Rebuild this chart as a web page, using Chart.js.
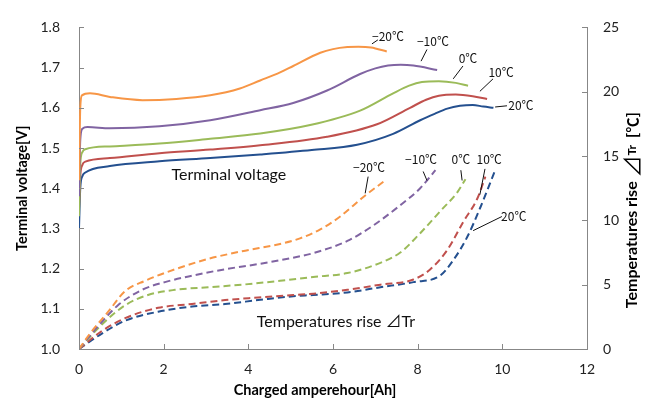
<!DOCTYPE html>
<html>
<head>
<meta charset="utf-8">
<script src="https://cdn.jsdelivr.net/npm/chart.js@4.4.1/dist/chart.umd.min.js"></script>
<style>
  html, body { margin: 0; padding: 0; background: #fff; }
  #wrap { width: 652px; height: 403px; }
</style>
</head>
<body>
<div id="wrap"><canvas id="chart" width="652" height="403"></canvas></div>
<script>
// Terminal voltage [V] vs charged Ah
const vAhM20 = [0, 0.03, 0.07, 0.26, 0.73, 1.5, 2.3, 3.1, 3.8, 4.28, 4.75, 5.06, 5.7, 6.0, 6.34, 6.6, 6.9, 7.27];
const voltM20 = [1.42, 1.60, 1.631, 1.636, 1.627, 1.619, 1.622, 1.631, 1.648, 1.668, 1.688, 1.704, 1.737, 1.746, 1.751, 1.752, 1.750, 1.740];
const vAhM10 = [0, 0.03, 0.08, 0.2, 0.73, 1.9, 3.1, 4.28, 5.06, 5.86, 6.64, 7.0, 7.3, 7.6, 7.9, 8.46];
const voltM10 = [1.38, 1.52, 1.548, 1.552, 1.549, 1.554, 1.569, 1.594, 1.612, 1.643, 1.684, 1.698, 1.705, 1.707, 1.705, 1.694];
const vAh0 = [0, 0.03, 0.08, 0.15, 0.73, 1.9, 3.1, 4.28, 5.46, 6.64, 7.42, 7.8, 8.1, 8.5, 8.9, 9.19];
const volt0 = [1.33, 1.46, 1.49, 1.497, 1.504, 1.511, 1.523, 1.536, 1.557, 1.593, 1.636, 1.655, 1.664, 1.666, 1.662, 1.655];
const vAh10 = [0, 0.03, 0.08, 0.15, 0.73, 1.9, 3.1, 4.28, 5.86, 7.04, 7.82, 8.2, 8.5, 8.9, 9.3, 9.64];
const volt10 = [1.35, 1.43, 1.458, 1.466, 1.475, 1.487, 1.496, 1.507, 1.528, 1.559, 1.600, 1.620, 1.630, 1.633, 1.629, 1.622];
const vAh20 = [0, 0.03, 0.08, 0.15, 0.73, 1.9, 3.1, 4.28, 5.5, 6.57, 7.42, 8.06, 8.4, 8.7, 9.0, 9.3, 9.55, 9.79];
const volt20 = [1.30, 1.40, 1.43, 1.439, 1.455, 1.467, 1.475, 1.484, 1.495, 1.508, 1.535, 1.569, 1.585, 1.598, 1.605, 1.607, 1.603, 1.600];

// Temperature rise [°C] vs charged Ah
const tAhM20 = [0, 0.26, 0.69, 1.09, 1.56, 2.27, 3.05, 3.85, 4.8, 5.22, 5.7, 6.17, 6.71, 7.23];
const riseM20 = [0, 1.2, 2.9, 4.5, 5.3, 6.2, 7.0, 7.6, 8.2, 8.6, 9.3, 10.3, 11.8, 13.1];
const tAhM10 = [0, 0.38, 0.92, 1.49, 2.03, 2.67, 3.45, 4.23, 5.06, 5.53, 6.34, 6.95, 7.52, 8.06, 8.42];
const riseM10 = [0, 1.5, 3.4, 4.6, 5.2, 5.7, 6.2, 6.6, 7.1, 7.45, 8.4, 9.6, 11.0, 12.5, 13.9];
const tAh0 = [0, 0.54, 1.09, 1.63, 2.27, 3.05, 3.85, 4.75, 5.53, 6.34, 7.12, 7.59, 8.06, 8.53, 8.94, 9.13];
const rise0 = [0, 1.9, 3.4, 4.2, 4.6, 4.8, 5.0, 5.3, 5.6, 5.9, 6.7, 7.5, 9.0, 10.7, 12.2, 13.2];
const tAh10 = [0, 0.54, 1.09, 1.87, 2.67, 3.45, 4.23, 5.06, 5.53, 6.34, 7.12, 7.9, 8.3, 8.7, 9.08, 9.41, 9.6];
const rise10 = [0, 1.4, 2.4, 3.2, 3.5, 3.8, 4.0, 4.2, 4.3, 4.6, 5.0, 5.4, 6.2, 7.7, 9.9, 11.7, 13.4];
const tAh20 = [0, 0.54, 1.09, 1.87, 2.67, 3.45, 4.23, 5.06, 5.53, 6.34, 7.12, 7.9, 8.53, 8.84, 9.17, 9.48, 9.83];
const rise20 = [0, 1.2, 2.2, 2.9, 3.3, 3.5, 3.8, 4.1, 4.2, 4.4, 4.8, 5.2, 5.7, 6.9, 8.7, 11.0, 13.9];

const seriesNames = ['−20℃', '−10℃', '0℃', '10℃', '20℃'];
const colors = ['#F79646', '#8064A2', '#9BBB59', '#C0504D', '#24508F'];

// where the temperature tags sit, in data units: [textX, textY, lineX1, lineY1, lineX2, lineY2]
const voltTags = [
    [7.30, 1.778, 6.92, 1.759, 7.06, 1.769],
    [8.36, 1.766, 8.22, 1.745, 8.08, 1.716],
    [9.19, 1.723, 9.07, 1.704, 8.84, 1.672],
    [9.97, 1.689, 9.78, 1.672, 9.47, 1.641],
    [10.44, 1.605, 10.11, 1.605, 9.83, 1.602]
];
const riseTags = [
    [6.85, 14.1, 6.83, 13.4, 6.76, 12.1],
    [8.08, 14.7, 8.13, 13.8, 8.22, 13.1],
    [9.02, 14.7, 9.02, 13.9, 9.05, 13.1],
    [9.69, 14.7, 9.59, 14.0, 9.47, 12.0],
    [10.27, 10.3, 9.99, 10.3, 9.31, 9.2]
];

const pts = (xs, ys) => xs.map((v, i) => ({ x: v, y: ys[i] }));

const voltSets = [[vAhM20, voltM20], [vAhM10, voltM10], [vAh0, volt0], [vAh10, volt10], [vAh20, volt20]];
const riseSets = [[tAhM20, riseM20], [tAhM10, riseM10], [tAh0, rise0], [tAh10, rise10], [tAh20, rise20]];

const datasets = [];
voltSets.forEach((s, i) => datasets.push({
    label: 'V ' + seriesNames[i],
    data: pts(s[0], s[1]),
    yAxisID: 'y',
    borderColor: colors[i],
    borderWidth: 2,
    pointRadius: 0,
    showLine: true,
    cubicInterpolationMode: 'monotone'
}));
riseSets.forEach((s, i) => datasets.push({
    label: 'T ' + seriesNames[i],
    data: pts(s[0], s[1]),
    yAxisID: 'y2',
    borderColor: colors[i],
    borderWidth: 2,
    borderDash: [7, 4],
    pointRadius: 0,
    showLine: true,
    cubicInterpolationMode: 'monotone'
}));

const FONT = "Lato, 'Noto Sans CJK JP', sans-serif";
const CJK = "'Noto Sans CJK JP', Lato, sans-serif";
const axisColor = '#878787';

const overlay = {
    id: 'overlay',
    afterDraw(chart) {
        const { ctx, chartArea: a, scales: { x, y, y2 } } = chart;
        ctx.save();
        // inward tick marks
        ctx.strokeStyle = axisColor;
        ctx.lineWidth = 1;
        ctx.beginPath();
        x.ticks.forEach(t => {
            const px = Math.round(x.getPixelForValue(t.value)) + 0.5;
            ctx.moveTo(px, a.bottom); ctx.lineTo(px, a.bottom - 5);
        });
        y.ticks.forEach(t => {
            const py = Math.round(y.getPixelForValue(t.value)) + 0.5;
            ctx.moveTo(a.left, py); ctx.lineTo(a.left + 5, py);
        });
        y2.ticks.forEach(t => {
            const py = Math.round(y2.getPixelForValue(t.value)) + 0.5;
            ctx.moveTo(a.right, py); ctx.lineTo(a.right - 5, py);
        });
        ctx.stroke();

        // temperature tags with leader lines
        ctx.fillStyle = '#111';
        ctx.strokeStyle = '#111';
        ctx.font = '12px ' + CJK;
        ctx.textAlign = 'center';
        ctx.textBaseline = 'middle';
        const tag = (scale, list) => list.forEach((t, i) => {
            ctx.beginPath();
            ctx.moveTo(x.getPixelForValue(t[2]), scale.getPixelForValue(t[3]));
            ctx.lineTo(x.getPixelForValue(t[4]), scale.getPixelForValue(t[5]));
            ctx.stroke();
            ctx.fillText(seriesNames[i], x.getPixelForValue(t[0]), scale.getPixelForValue(t[1]));
        });
        tag(y, voltTags);
        tag(y2, riseTags);

        // curve captions
        ctx.font = '16px ' + FONT;
        ctx.fillText('Terminal voltage', x.getPixelForValue(3.54), y.getPixelForValue(1.434));
        ctx.fillText('Temperatures rise ⊿Tr', x.getPixelForValue(6.07), y2.getPixelForValue(2.1));

        // axis titles
        ctx.fillStyle = '#000';
        ctx.font = 'bold 14.5px ' + FONT;
        ctx.fillText('Charged amperehour[Ah]', (a.left + a.right) / 2 - 18, 390);

        ctx.save();
        ctx.translate(22, (a.top + a.bottom) / 2);
        ctx.rotate(-Math.PI / 2);
        ctx.fillText('Terminal voltage[V]', 0, 0);
        ctx.restore();

        ctx.save();
        ctx.translate(632, 210);
        ctx.rotate(-Math.PI / 2);
        const parts = [
            ['Temperatures rise ', 'bold 16px ' + FONT],
            ['⊿', '22px ' + CJK],
            ['Tr', 'bold 12px ' + FONT],
            ['  [℃]', 'bold 15px ' + CJK]
        ];
        let total = 0;
        parts.forEach(p => { ctx.font = p[1]; total += ctx.measureText(p[0]).width; });
        let cx = -total / 2;
        ctx.textAlign = 'left';
        parts.forEach(p => {
            ctx.font = p[1];
            ctx.fillText(p[0], cx, 0);
            cx += ctx.measureText(p[0]).width;
        });
        ctx.restore();
        ctx.restore();
    }
};

new Chart(document.getElementById('chart'), {
    type: 'scatter',
    data: { datasets: datasets },
    options: {
        responsive: false,
        animation: false,
        layout: { padding: { top: 17, left: 0, right: 0, bottom: 0 } },
        plugins: { legend: { display: false }, tooltip: { enabled: false } },
        scales: {
            x: {
                type: 'linear',
                min: 0, max: 12,
                afterFit: s => { s.height = 54; },
                grid: { display: false, drawTicks: false },
                border: { display: true, color: axisColor, width: 1 },
                ticks: { stepSize: 2, padding: 12, color: '#222', font: { family: FONT, size: 14 } }
            },
            y: {
                position: 'left',
                min: 1.0, max: 1.8,
                afterFit: s => { s.width = 79; },
                grid: { display: false, drawTicks: false },
                border: { display: true, color: axisColor, width: 1 },
                ticks: {
                    stepSize: 0.1, padding: 19, color: '#222',
                    font: { family: FONT, size: 14 },
                    callback: v => v.toFixed(1)
                }
            },
            y2: {
                position: 'right',
                min: 0, max: 25,
                afterFit: s => { s.width = 65; },
                grid: { display: false, drawTicks: false },
                border: { display: true, color: axisColor, width: 1 },
                ticks: { stepSize: 5, padding: 16, color: '#222', font: { family: FONT, size: 14 } }
            }
        }
    },
    plugins: [overlay]
});
</script>
</body>
</html>
